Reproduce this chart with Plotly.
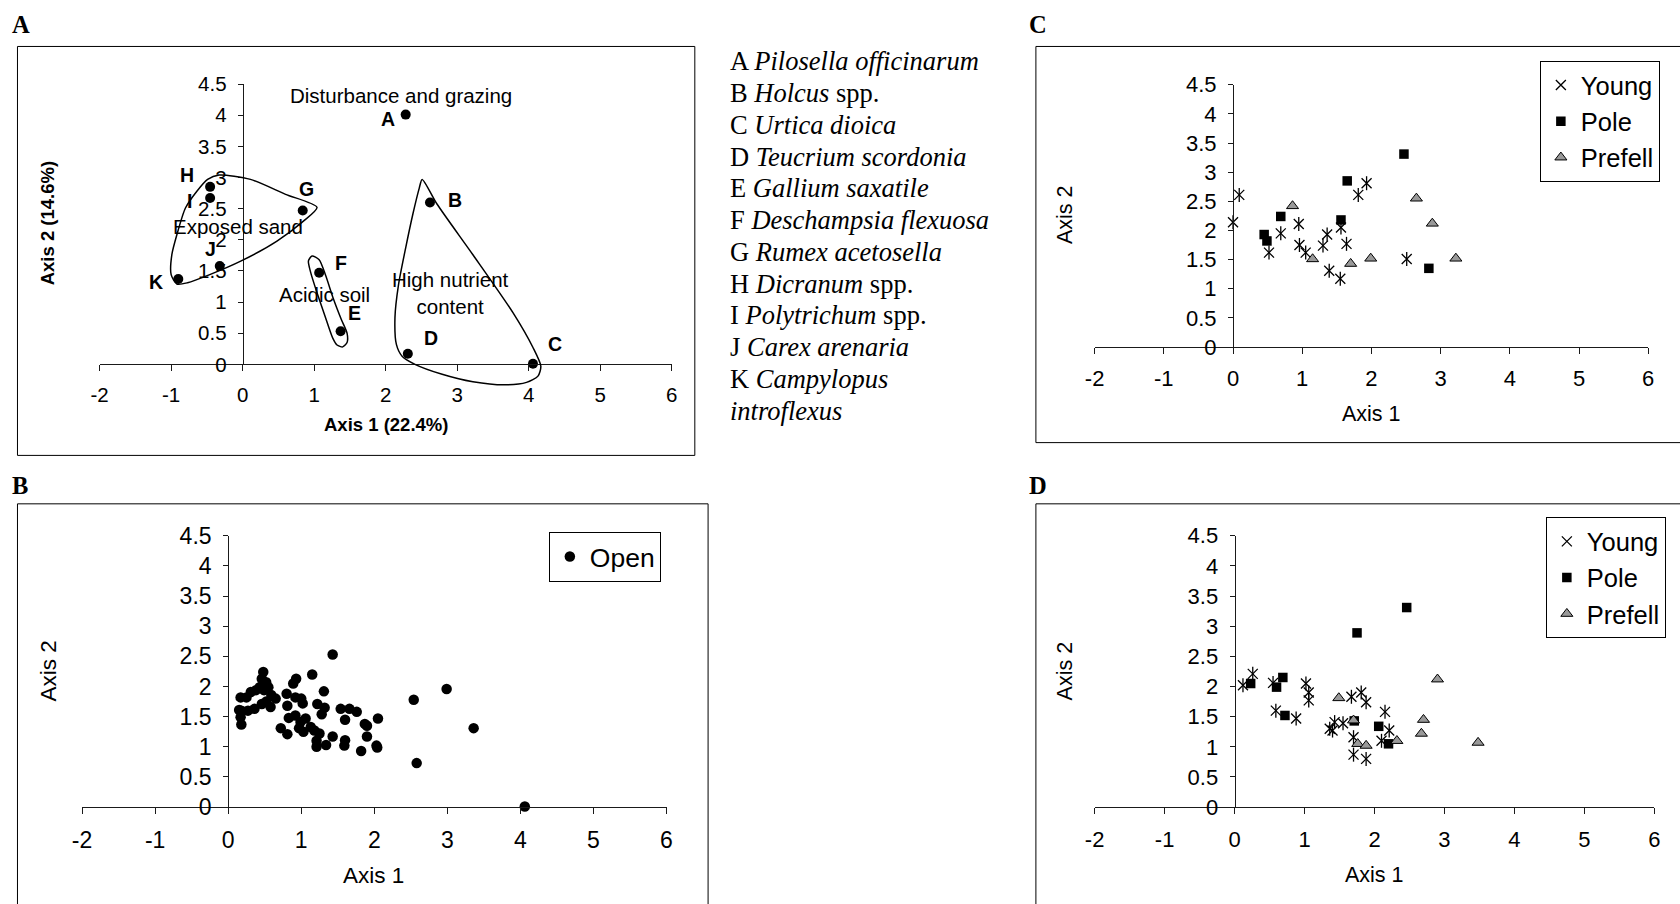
import plotly.graph_objects as go

# The captured picture maps figure pixel f to picture pixel  a*f + b  (measured on earlier runs);
# all layout positions below are given as wanted picture pixels and converted with the inverse map.
AXS, BXS = 0.9935, 8.5
AYS, BYS = 0.973, 11.5
FW, FH = 1684, 918
SANS = "Liberation Sans, Arial, sans-serif"
SERIF = "Liberation Serif, Times New Roman, serif"
AX = "#1a1a1a"

# ---------------- data ----------------
x_ticks = [-2, -1, 0, 1, 2, 3, 4, 5, 6]
x_ticklabels = ["-2", "-1", "0", "1", "2", "3", "4", "5", "6"]
y_ticks = [0, 0.5, 1, 1.5, 2, 2.5, 3, 3.5, 4, 4.5]
y_ticklabels = ["0", "0.5", "1", "1.5", "2", "2.5", "3", "3.5", "4", "4.5"]

# Panel A: species scores
species_codes = ["A", "B", "C", "D", "E", "F", "G", "H", "I", "J", "K"]
species_x = [2.28, 2.62, 4.06, 2.31, 1.37, 1.07, 0.84, -0.455, -0.455, -0.32, -0.90]
species_y = [4.01, 2.60, 0.01, 0.17, 0.53, 1.47, 2.47, 2.85, 2.67, 1.58, 1.37]
species_names = [
    "A <i>Pilosella officinarum</i>",
    "B <i>Holcus</i> spp.",
    "C <i>Urtica dioica</i>",
    "D <i>Teucrium scordonia</i>",
    "E <i>Gallium saxatile</i>",
    "F <i>Deschampsia flexuosa</i>",
    "G <i>Rumex acetosella</i>",
    "H <i>Dicranum</i> spp.",
    "I <i>Polytrichum</i> spp.",
    "J <i>Carex arenaria</i>",
    "K <i>Campylopus</i>",
    "<i>introflexus</i>",
]

# Panel A: group outlines (traced)
sand_x = [-0.33, 0.11, 0.60, 1.04, 0.85, 0.48, -0.02, -0.46, -0.77, -0.92, -1.00, -0.99, -0.92, -0.80, -0.64, -0.49, -0.33]
sand_y = [3.04, 2.97, 2.73, 2.52, 2.30, 1.98, 1.66, 1.44, 1.31, 1.29, 1.44, 1.76, 2.08, 2.51, 2.78, 2.97, 3.04]
acid_x = [0.97, 1.07, 1.16, 1.27, 1.38, 1.46, 1.46, 1.40, 1.32, 1.26, 1.15, 1.04, 0.95, 0.92, 0.97]
acid_y = [1.74, 1.68, 1.43, 1.05, 0.72, 0.50, 0.35, 0.28, 0.31, 0.42, 0.78, 1.15, 1.48, 1.66, 1.74]
nutr_x = [2.51, 2.72, 3.22, 3.78, 4.06, 4.17, 4.13, 3.97, 3.66, 3.22, 2.79, 2.41, 2.23, 2.15, 2.13, 2.18, 2.28, 2.38, 2.47, 2.51]
nutr_y = [2.97, 2.57, 1.76, 0.83, 0.27, -0.03, -0.19, -0.29, -0.33, -0.28, -0.16, 0.0, 0.13, 0.32, 0.75, 1.28, 1.87, 2.41, 2.83, 2.97]

region_text = ["Disturbance and grazing", "Exposed sand", "Acidic soil", "High nutrient<br>content"]
region_x = [2.21, -0.07, 1.15, 2.91]
region_y = [4.31, 2.22, 1.12, 1.14]

# Panel B: open sites
open_x = [1.43, 1.15, 2.99, 2.54, 3.36, 2.58, 4.06, 1.31, 1.22, 1.32, 1.28, 1.54, 1.66, 1.76, 1.60, 1.87, 1.90,
          2.05, 1.90, 1.60, 1.59, 1.82, 2.03, 2.04, 1.43, 1.34, 1.21, 1.21, 1.25, 1.18, 1.13, 1.06, 0.99, 0.97,
          1.03, 0.92, 0.83, 0.72, 0.81, 0.81, 0.80, 0.89, 0.93, 0.92, 1.00, 1.02, 0.58, 0.65, 0.59, 0.48, 0.46,
          0.52, 0.55, 0.49, 0.43, 0.38, 0.31, 0.25, 0.17, 0.36, 0.27, 0.18, 0.15, 0.17, 0.18, 0.46, 0.52]
open_y = [2.53, 2.20, 1.96, 1.78, 1.31, 0.73, 0.01, 1.92, 1.71, 1.65, 1.54, 1.63, 1.63, 1.58, 1.45, 1.38, 1.35,
          1.47, 1.17, 1.11, 1.02, 0.93, 1.02, 0.99, 1.17, 1.03, 1.00, 1.10, 1.22, 1.27, 1.33, 1.47, 1.41, 1.31,
          1.25, 1.52, 1.48, 1.31, 1.21, 1.68, 1.88, 2.05, 2.13, 1.82, 1.80, 1.72, 1.66, 1.80, 1.86, 2.24, 2.13,
          2.07, 1.99, 1.94, 1.99, 1.94, 1.91, 1.82, 1.82, 1.63, 1.60, 1.60, 1.61, 1.49, 1.37, 1.71, 1.75]

# Panel C
c_young_x = [0.0, 0.09, 0.52, 0.69, 0.95, 0.96, 1.05, 1.30, 1.36, 1.39, 1.55, 1.56, 1.64, 1.81, 1.93, 2.51]
c_young_y = [2.14, 2.61, 1.62, 1.95, 2.11, 1.75, 1.62, 1.74, 1.93, 1.31, 1.17, 2.05, 1.77, 2.61, 2.81, 1.51]
c_pole_x = [0.45, 0.49, 0.69, 1.56, 1.65, 2.47, 2.83]
c_pole_y = [1.93, 1.82, 2.24, 2.18, 2.85, 3.31, 1.35]
c_pref_x = [0.86, 1.15, 1.70, 1.99, 2.65, 2.88, 3.22]
c_pref_y = [2.42, 1.51, 1.43, 1.52, 2.55, 2.12, 1.52]

# Panel D
d_young_x = [0.12, 0.26, 0.55, 0.59, 0.88, 1.02, 1.06, 1.06, 1.36, 1.40, 1.43, 1.55, 1.67, 1.70, 1.70, 1.81, 1.88, 1.88, 2.10, 2.15, 2.21]
d_young_y = [2.02, 2.21, 2.06, 1.60, 1.47, 2.05, 1.90, 1.77, 1.30, 1.27, 1.41, 1.39, 1.83, 1.16, 0.87, 1.90, 1.74, 0.80, 1.10, 1.58, 1.27]
d_pole_x = [0.23, 0.60, 0.69, 0.72, 1.71, 1.75, 2.06, 2.20, 2.46]
d_pole_y = [2.05, 1.99, 2.15, 1.52, 1.43, 2.89, 1.34, 1.05, 3.31]
d_pref_x = [1.49, 1.70, 1.76, 1.88, 2.32, 2.67, 2.70, 2.90, 3.48]
d_pref_y = [1.81, 1.44, 1.05, 1.02, 1.10, 1.22, 1.45, 2.12, 1.07]

# ---------------- layout geometry (wanted picture pixels) ----------------
def fx(px):
    return ((px - BXS) / AXS) / FW

def fy(py):
    return 1 - ((py - BYS) / AYS) / FH

label_shift = [(-18, -4), (25, 2), (22, 20), (23, 16), (14, 18), (22, 10), (4, 22), (-23, 12), (-21, -3), (-9, 17), (-22, -3)]

PANELS = {
    1: dict(x0=98.4, x1=672.2, yt=82.7, yb=363.3, tick=20.5),   # A
    2: dict(x0=1096.4, x1=1651.7, yt=83.3, yb=346.0, tick=22),   # C
    3: dict(x0=80.8, x1=667.0, yt=535.0, yb=806.7, tick=23),     # B
    4: dict(x0=1096.4, x1=1657.9, yt=535.0, yb=806.7, tick=22),  # D
}

layout = dict(
    width=FW, height=FH, margin=dict(l=0, r=0, t=0, b=0, pad=0),
    paper_bgcolor="white", plot_bgcolor="rgba(0,0,0,0)",
    showlegend=True, font=dict(family=SANS, color="black"),
)

for i, P in PANELS.items():
    s = "" if i == 1 else str(i)
    xd = [fx(P["x0"]), fx(P["x1"])]
    yd = [fy(P["yb"]), fy(P["yt"])]
    ypos = xd[0] + (0 - x_ticks[0]) / (x_ticks[-1] - x_ticks[0]) * (xd[1] - xd[0])
    common = dict(showline=True, linecolor=AX, linewidth=1, ticks="outside", tickwidth=1,
                  tickcolor=AX, showgrid=False, zeroline=False, fixedrange=True, tickmode="array",
                  tickfont=dict(family=SANS, size=P["tick"], color="black"))
    layout["xaxis" + s] = dict(domain=xd, range=[x_ticks[0], x_ticks[-1]], anchor="y" + s, ticklen=6,
                               tickvals=x_ticks, ticktext=x_ticklabels, ticklabelstandoff=6, **common)
    layout["yaxis" + s] = dict(domain=yd, range=[y_ticks[0], y_ticks[-1]], anchor="free", position=ypos,
                               side="left", ticklen=5, tickvals=y_ticks, ticktext=y_ticklabels,
                               ticklabelstandoff=7, **common)

# invisible companion axes for panel A outlines (same scale, larger area so outlines are not clipped)
PA = PANELS[1]
ux = (PA["x1"] - PA["x0"]) / (x_ticks[-1] - x_ticks[0])
uy = (PA["yb"] - PA["yt"]) / (y_ticks[-1] - y_ticks[0])
layout["xaxis5"] = dict(domain=[fx(PA["x0"] - ux), fx(PA["x1"] + ux)], range=[x_ticks[0] - 1, x_ticks[-1] + 1],
                        anchor="y5", visible=False, fixedrange=True)
layout["yaxis5"] = dict(domain=[fy(PA["yb"] + uy), fy(PA["yt"] - uy)], range=[y_ticks[0] - 1, y_ticks[-1] + 1],
                        anchor="x5", visible=False, fixedrange=True)

fig = go.Figure()

# ---- Panel A ----
for hx, hy in [(sand_x, sand_y), (acid_x, acid_y), (nutr_x, nutr_y)]:
    fig.add_trace(go.Scatter(x=hx, y=hy, mode="lines", xaxis="x5", yaxis="y5",
                             line=dict(color="black", width=1.5, shape="spline", smoothing=0.7),
                             showlegend=False, hoverinfo="skip"))
fig.add_trace(go.Scatter(x=species_x, y=species_y, mode="markers", xaxis="x", yaxis="y",
                         marker=dict(symbol="circle", size=10, color="black"), cliponaxis=False,
                         showlegend=False, hoverinfo="skip"))

# ---- young marker helper (X plus vertical bar) ----
def young_traces(xs, ys, xa, ya, leg):
    mk = dict(size=10, color="black", line=dict(width=1.3, color="black"))
    return [
        go.Scatter(x=xs, y=ys, mode="markers", xaxis=xa, yaxis=ya, name="Young", legend=leg,
                   marker=dict(symbol="x-thin-open", **mk), cliponaxis=False, hoverinfo="skip"),
        go.Scatter(x=xs, y=ys, mode="markers", xaxis=xa, yaxis=ya, showlegend=False, legend=leg,
                   marker=dict(symbol="line-ns-open", **mk), cliponaxis=False, hoverinfo="skip"),
    ]

def pole_trace(xs, ys, xa, ya, leg):
    return go.Scatter(x=xs, y=ys, mode="markers", xaxis=xa, yaxis=ya, name="Pole", legend=leg,
                      marker=dict(symbol="square", size=9.5, color="black", line=dict(width=0)),
                      cliponaxis=False, hoverinfo="skip")

def pref_trace(xs, ys, xa, ya, leg):
    return go.Scatter(x=xs, y=ys, mode="markers", xaxis=xa, yaxis=ya, name="Prefell", legend=leg,
                      marker=dict(symbol="triangle-up", size=10.5, color="#999999", line=dict(width=1, color="black")),
                      cliponaxis=False, hoverinfo="skip")

# ---- Panel C ----
for t in young_traces(c_young_x, c_young_y, "x2", "y2", "legend"):
    fig.add_trace(t)
fig.add_trace(pole_trace(c_pole_x, c_pole_y, "x2", "y2", "legend"))
fig.add_trace(pref_trace(c_pref_x, c_pref_y, "x2", "y2", "legend"))

# ---- Panel B ----
fig.add_trace(go.Scatter(x=open_x, y=open_y, mode="markers", xaxis="x3", yaxis="y3", name="Open", legend="legend3",
                         marker=dict(symbol="circle", size=10.5, color="black"), cliponaxis=False, hoverinfo="skip"))

# ---- Panel D ----
for t in young_traces(d_young_x, d_young_y, "x4", "y4", "legend2"):
    fig.add_trace(t)
fig.add_trace(pole_trace(d_pole_x, d_pole_y, "x4", "y4", "legend2"))
fig.add_trace(pref_trace(d_pref_x, d_pref_y, "x4", "y4", "legend2"))

# ---- legends ----
def leg(xpx, ypx, size):
    return dict(x=fx(xpx), y=fy(ypx), xanchor="left", yanchor="top", bordercolor="black", borderwidth=1,
                bgcolor="white", font=dict(family=SANS, size=size, color="black"), itemwidth=30,
                tracegroupgap=0, orientation="v")

layout["legend"] = leg(1543.0, 59.5, 25.5)
layout["legend2"] = leg(1549.0, 516.5, 25.5)
layout["legend3"] = leg(549.0, 531.0, 26.5)

# ---- annotations ----
ann = []
for code, sx, sy, (dx, dy) in zip(species_codes, species_x, species_y, label_shift):
    ann.append(dict(x=sx, y=sy, xref="x", yref="y", text="<b>%s</b>" % code, showarrow=False,
                    xshift=dx, yshift=dy, font=dict(family=SANS, size=19.5, color="black")))
for t, rx, ry in zip(region_text, region_x, region_y):
    ann.append(dict(x=rx, y=ry, xref="x", yref="y", text=t, showarrow=False,
                    font=dict(family=SANS, size=20.5, color="black")))

def pann(xpx, ypx, text, font, xanchor="center", angle=0):
    return dict(x=fx(xpx), y=fy(ypx), xref="paper", yref="paper", text=text, showarrow=False,
                xanchor=xanchor, yanchor="middle", textangle=angle, font=font)

bold_t = dict(family=SANS, size=18.5, color="black")
ann.append(pann(47, 221.7, "<b>Axis 2 (14.6%)</b>", bold_t, angle=-90))
ann.append(pann(385.5, 424, "<b>Axis 1 (22.4%)</b>", bold_t))
tC = dict(family=SANS, size=21.5, color="black")
ann.append(pann(1066.5, 213, "Axis 2", tC, angle=-90))
ann.append(pann(1374, 413, "Axis 1", tC))
tB = dict(family=SANS, size=22.5, color="black")
ann.append(pann(47.6, 670, "Axis 2", tB, angle=-90))
ann.append(pann(373, 875, "Axis 1", tB))
ann.append(pann(1066.5, 670, "Axis 2", tC, angle=-90))
ann.append(pann(1376.8, 875, "Axis 1", tC))

letter_f = dict(family=SERIF, size=24.5, color="black")
for L, lx, ly in [("A", 9, 23.5), ("B", 9, 485), ("C", 1029, 23.5), ("D", 1029, 485)]:
    ann.append(pann(lx, ly, "<b>%s</b>" % L, letter_f, xanchor="left"))

for k, line in enumerate(species_names):
    ann.append(pann(729, 60 + 31.8 * k, line, dict(family=SERIF, size=26.5, color="black"), xanchor="left"))

layout["annotations"] = ann

# ---- panel frames ----
def frame(x0, y0, x1, y1):
    return dict(type="rect", xref="paper", yref="paper", x0=fx(x0), x1=fx(x1), y0=fy(y1), y1=fy(y0),
                line=dict(color="black", width=1), fillcolor="rgba(0,0,0,0)", layer="below")

layout["shapes"] = [
    frame(16, 45, 695.4, 454.5),
    frame(1037.5, 45, 1700, 441.7),
    frame(16, 503, 708.7, 930),
    frame(1037.5, 503, 1700, 930),
]

fig.update_layout(**layout)
fig.write_html("out.html")
